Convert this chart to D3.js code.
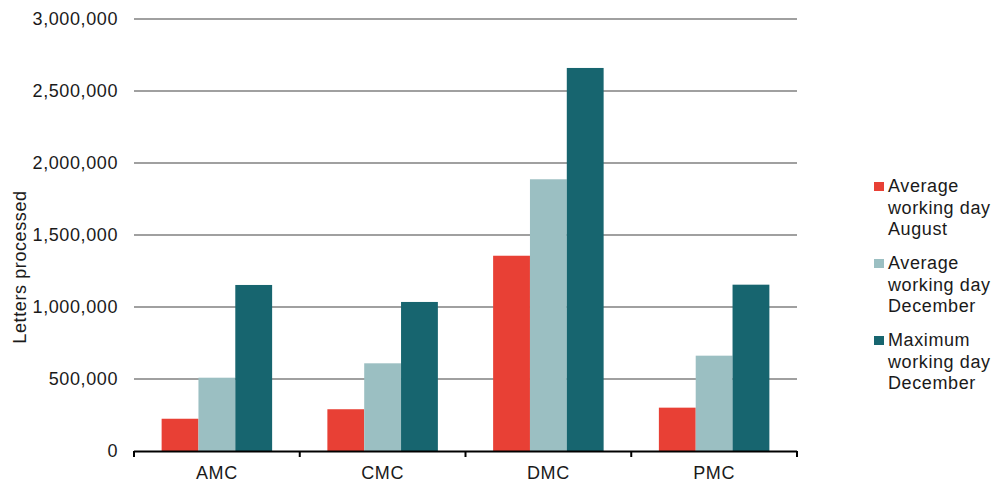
<!DOCTYPE html>
<html>
<head>
<meta charset="utf-8">
<script src="https://cdn.jsdelivr.net/npm/d3@7"></script>
<style>
  html, body { margin: 0; padding: 0; background: #fff; }
  svg { display: block; font-family: "Liberation Sans", Arial, sans-serif; }
  svg text { letter-spacing: 0.6px; }
</style>
</head>
<body>
<svg id="chart" width="993" height="483"></svg>
<script>
// Mail centres
const centres = ["AMC", "CMC", "DMC", "PMC"];

// Letters processed per series
const avgAugust   = [224000, 290000, 1356000, 301000];
const avgDecember = [509000, 609000, 1887000, 662000];
const maxDecember = [1153000, 1035000, 2660000, 1155000];

const seriesNames = [
  ["Average", "working day", "August"],
  ["Average", "working day", "December"],
  ["Maximum", "working day", "December"]
];
const seriesColors = ["#E84035", "#9BBFC2", "#17656F"];
const yTicks = [0, 500000, 1000000, 1500000, 2000000, 2500000, 3000000];

const series = [avgAugust, avgDecember, maxDecember];

const svg = d3.select("#chart");
const margin = { left: 134, right: 196, top: 19, bottom: 32 };
const W = 993, H = 483;
const x0 = margin.left, x1 = W - margin.right;
const y0 = H - margin.bottom, y1 = margin.top;
const fontSize = 18;

const x = d3.scaleBand().domain(centres).range([x0, x1]).paddingInner(0).paddingOuter(0);
const inner = d3.scaleBand().domain(d3.range(series.length))
  .range([0, x.bandwidth()]).paddingInner(0).paddingOuter(0.75);
const y = d3.scaleLinear().domain([0, 3000000]).range([y0, y1]);

// Gridlines
svg.append("g").selectAll("line").data(yTicks.filter(d => d > 0)).join("line")
  .attr("x1", x0).attr("x2", x1)
  .attr("y1", d => y(d)).attr("y2", d => y(d))
  .attr("stroke", "#a0a0a0").attr("stroke-width", 2);

// Y axis tick labels
const fmt = d3.format(",");
svg.append("g").selectAll("text").data(yTicks).join("text")
  .attr("x", 118).attr("y", d => y(d)).attr("dy", "0.35em")
  .attr("text-anchor", "end").attr("font-size", fontSize).attr("fill", "#1a1a1a")
  .text(d => fmt(d));

// Y axis title
svg.append("text")
  .attr("transform", `translate(26,${(y0 + y1) / 2 + 32}) rotate(-90)`)
  .attr("text-anchor", "middle").attr("font-size", fontSize).attr("fill", "#1a1a1a")
  .text("Letters processed");

// Bars
series.forEach((vals, si) => {
  svg.append("g").selectAll("rect").data(centres).join("rect")
    .attr("x", c => x(c) + inner(si))
    .attr("width", inner.bandwidth())
    .attr("y", (c, i) => y(vals[i]))
    .attr("height", (c, i) => y0 - y(vals[i]))
    .attr("fill", seriesColors[si]);
});

// X axis baseline and ticks
const xAxis = svg.append("g");
xAxis.append("line").attr("x1", x0).attr("x2", x1).attr("y1", y0 + 0.5).attr("y2", y0 + 0.5)
  .attr("stroke", "#000").attr("stroke-width", 2);
const boundaries = centres.map(c => x(c)).concat([x1]);
xAxis.selectAll("line.tick").data(boundaries).join("line").attr("class", "tick")
  .attr("x1", d => d).attr("x2", d => d).attr("y1", y0).attr("y2", y0 + 6)
  .attr("stroke", "#000").attr("stroke-width", 2);
xAxis.selectAll("text").data(centres).join("text")
  .attr("x", c => x(c) + x.bandwidth() / 2).attr("y", y0 + 22)
  .attr("dy", "0.35em").attr("text-anchor", "middle")
  .attr("font-size", fontSize).attr("fill", "#1a1a1a")
  .text(c => c);

// Legend
const legend = svg.append("g");
const legendTop = 186, entryGap = 77, lineH = 21.5;
seriesNames.forEach((lines, si) => {
  const gy = legendTop + si * entryGap;
  legend.append("rect")
    .attr("x", 874).attr("y", gy - 4).attr("width", 10).attr("height", 9)
    .attr("fill", seriesColors[si]);
  lines.forEach((t, li) => {
    legend.append("text")
      .attr("x", 888).attr("y", gy + li * lineH).attr("dy", "0.35em")
      .attr("font-size", fontSize).attr("fill", "#1a1a1a")
      .text(t);
  });
});
</script>
</body>
</html>
